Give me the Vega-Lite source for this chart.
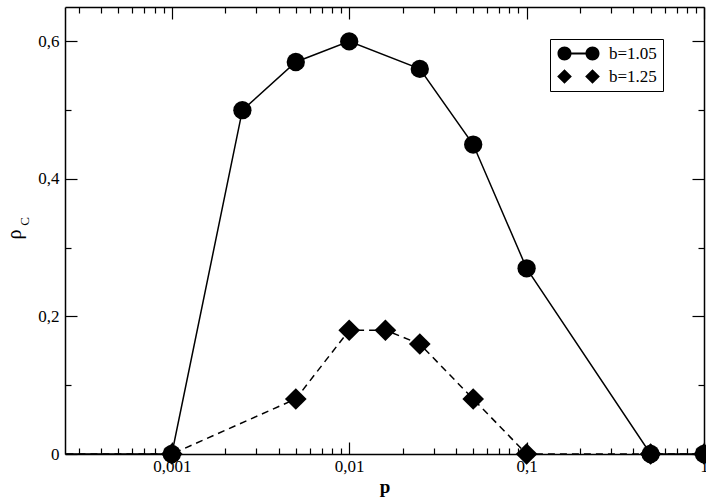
{
  "$schema": "https://vega.github.io/schema/vega-lite/v6.json",
  "width": 639,
  "height": 447,
  "autosize": {"type": "none"},
  "padding": {"left": 65, "top": 7, "right": 2, "bottom": 47},
  "background": "white",
  "config": {
    "view": {"stroke": null},
    "font": "Liberation Serif",
    "axis": {
      "domainColor": "black",
      "domainWidth": 1.5,
      "tickColor": "black",
      "tickWidth": 1.2,
      "labelColor": "black",
      "labelFont": "Liberation Serif",
      "labelFontSize": 17,
      "titleColor": "black",
      "titleFont": "Liberation Serif",
      "grid": false
    }
  },
  "data": {
    "values": [
      {"series": "b=1.25", "p": 0.0001, "rho": 0},
      {"series": "b=1.25", "p": 0.001, "rho": 0},
      {"series": "b=1.25", "p": 0.005, "rho": 0.08},
      {"series": "b=1.25", "p": 0.01, "rho": 0.18},
      {"series": "b=1.25", "p": 0.016, "rho": 0.18},
      {"series": "b=1.25", "p": 0.025, "rho": 0.16},
      {"series": "b=1.25", "p": 0.05, "rho": 0.08},
      {"series": "b=1.25", "p": 0.1, "rho": 0},
      {"series": "b=1.25", "p": 0.5, "rho": 0},
      {"series": "b=1.25", "p": 1, "rho": 0},
      {"series": "b=1.05", "p": 0.0001, "rho": 0},
      {"series": "b=1.05", "p": 0.001, "rho": 0},
      {"series": "b=1.05", "p": 0.0025, "rho": 0.5},
      {"series": "b=1.05", "p": 0.005, "rho": 0.57},
      {"series": "b=1.05", "p": 0.01, "rho": 0.6},
      {"series": "b=1.05", "p": 0.025, "rho": 0.56},
      {"series": "b=1.05", "p": 0.05, "rho": 0.45},
      {"series": "b=1.05", "p": 0.1, "rho": 0.27},
      {"series": "b=1.05", "p": 0.5, "rho": 0},
      {"series": "b=1.05", "p": 1, "rho": 0}
    ]
  },
  "resolve": {"axis": {"x": "independent", "y": "independent"}},
  "layer": [
    {
      "transform": [{"filter": "datum.series === 'b=1.05'"}],
      "mark": {"type": "line", "color": "black", "strokeWidth": 1.5, "clip": true},
      "encoding": {
        "x": {
          "field": "p", "type": "quantitative",
          "scale": {"type": "log", "domain": [0.00025, 1], "nice": false},
          "axis": {
            "orient": "bottom",
            "values": [0.0003, 0.0004, 0.0005, 0.0006, 0.0007, 0.0008, 0.0009, 0.001, 0.002, 0.003, 0.004, 0.005, 0.006, 0.007, 0.008, 0.009, 0.01, 0.02, 0.03, 0.04, 0.05, 0.06, 0.07, 0.08, 0.09, 0.1, 0.2, 0.3, 0.4, 0.5, 0.6, 0.7, 0.8, 0.9, 1],
            "labelExpr": "indexof([0.001, 0.01, 0.1, 1], datum.value) >= 0 ? replace(toString(datum.value), '.', ',') : ''",
            "tickSize": {"condition": {"test": "indexof([0.001, 0.01, 0.1, 1], datum.value) >= 0", "value": -12}, "value": -6},
            "labelPadding": 16,
            "labelOverlap": false,
            "labelBound": false,
            "labelFlush": false,
            "title": "p",
            "titleFontSize": 19,
            "titleFontWeight": "bold",
            "titleY": 38,
            "titleBaseline": "alphabetic"
          }
        },
        "y": {
          "field": "rho", "type": "quantitative",
          "scale": {"domain": [0, 0.65], "nice": false},
          "axis": {
            "orient": "left",
            "values": [0, 0.1, 0.2, 0.3, 0.4, 0.5, 0.6],
            "labelExpr": "round(datum.value * 10) % 2 == 0 ? replace(toString(datum.value), '.', ',') : ''",
            "tickSize": {"condition": {"test": "round(datum.value * 10) % 2 == 0", "value": -12}, "value": -6},
            "labelPadding": 18,
            "labelOverlap": false,
            "labelBound": false,
            "labelFlush": false,
            "title": "ρ",
            "titleAngle": 270,
            "titleX": -45,
            "titleY": 227,
            "titleAlign": "center",
            "titleBaseline": "alphabetic",
            "titleFontSize": 20,
            "titleFontWeight": "normal"
          }
        }
      }
    },
    {
      "transform": [{"filter": "datum.series === 'b=1.25'"}],
      "mark": {"type": "line", "color": "black", "strokeWidth": 1.5, "strokeDash": [7, 5], "clip": true},
      "encoding": {
        "x": {"field": "p", "type": "quantitative", "axis": null},
        "y": {
          "field": "rho", "type": "quantitative",
          "axis": {
            "orient": "left",
            "domain": false,
            "ticks": false,
            "labels": false,
            "title": "C",
            "titleAngle": 270,
            "titleX": -37,
            "titleY": 214,
            "titleAlign": "center",
            "titleBaseline": "alphabetic",
            "titleFontSize": 13,
            "titleFontWeight": "normal"
          }
        }
      }
    },
    {
      "transform": [{"filter": "datum.p >= 0.00025 && datum.series === 'b=1.25'"}],
      "mark": {"type": "point", "shape": "diamond", "size": 470, "filled": true, "color": "black", "opacity": 1, "strokeWidth": 0},
      "encoding": {
        "x": {
          "field": "p", "type": "quantitative",
          "axis": {
            "orient": "top",
            "values": [0.0003, 0.0004, 0.0005, 0.0006, 0.0007, 0.0008, 0.0009, 0.001, 0.002, 0.003, 0.004, 0.005, 0.006, 0.007, 0.008, 0.009, 0.01, 0.02, 0.03, 0.04, 0.05, 0.06, 0.07, 0.08, 0.09, 0.1, 0.2, 0.3, 0.4, 0.5, 0.6, 0.7, 0.8, 0.9, 1],
            "labels": false,
            "tickSize": {"condition": {"test": "indexof([0.001, 0.01, 0.1, 1], datum.value) >= 0", "value": -12}, "value": -6},
            "title": null
          }
        },
        "y": {
          "field": "rho", "type": "quantitative",
          "axis": {
            "orient": "right",
            "values": [0, 0.1, 0.2, 0.3, 0.4, 0.5, 0.6],
            "labels": false,
            "tickSize": {"condition": {"test": "round(datum.value * 10) % 2 == 0", "value": -12}, "value": -6},
            "title": null
          }
        }
      }
    },
    {
      "transform": [{"filter": "datum.p >= 0.00025 && datum.series === 'b=1.05'"}],
      "mark": {"type": "point", "shape": "circle", "size": 335, "filled": true, "color": "black", "opacity": 1, "strokeWidth": 0},
      "encoding": {
        "x": {"field": "p", "type": "quantitative", "axis": null},
        "y": {"field": "rho", "type": "quantitative", "axis": null}
      }
    },
    {
      "transform": [{"filter": "datum.p >= 0.00025"}],
      "mark": {"type": "point", "filled": true, "color": "black", "opacity": 0, "strokeWidth": 0},
      "encoding": {
        "x": {"field": "p", "type": "quantitative", "axis": null},
        "y": {"field": "rho", "type": "quantitative", "axis": null},
        "shape": {
          "field": "series", "type": "nominal",
          "scale": {
            "domain": ["b=1.05", "b=1.25"],
            "range": [
              "M-1,0A1,1 0 1,1 1,0A1,1 0 1,1 -1,0Z M3,0A1,1 0 1,1 5,0A1,1 0 1,1 3,0Z M0.9,-0.13L3.1,-0.13L3.1,0.13L0.9,0.13Z",
              "M-1.05,0L0,-1.05L1.05,0L0,1.05Z M2.95,0L4,-1.05L5.05,0L4,1.05Z"
            ]
          },
          "legend": {
            "title": null,
            "orient": "none",
            "legendX": 485,
            "legendY": 32,
            "strokeColor": "black",
            "fillColor": "white",
            "padding": 6,
            "cornerRadius": 0,
            "symbolSize": 196,
            "symbolFillColor": "black",
            "symbolStrokeWidth": 0,
            "symbolOpacity": 1,
            "labelFont": "Liberation Serif",
            "labelFontSize": 17,
            "labelColor": "black",
            "labelOffset": 36,
            "rowPadding": 5
          }
        }
      }
    }
  ]
}
